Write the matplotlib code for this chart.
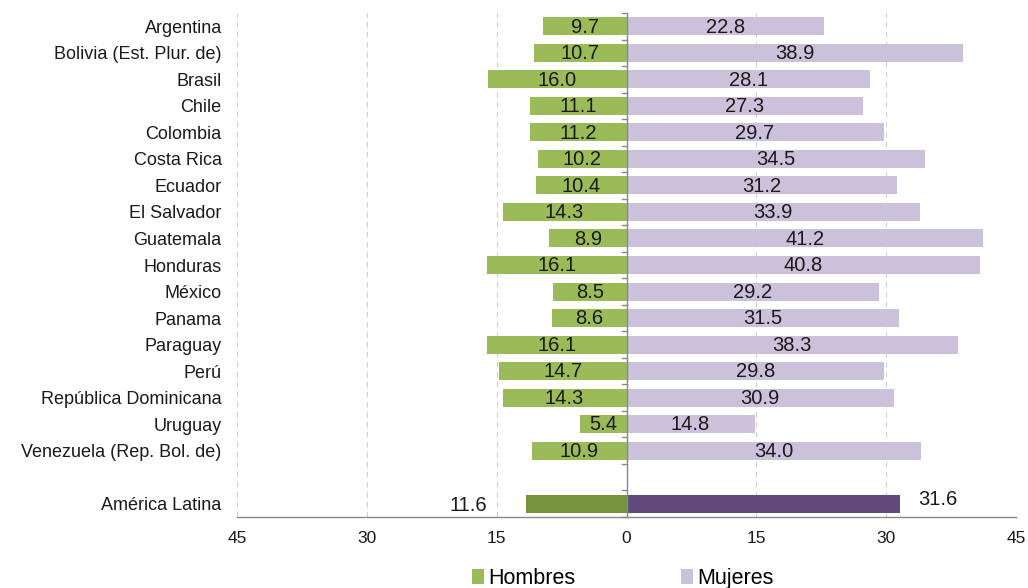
import matplotlib
matplotlib.use("Agg")
import matplotlib.pyplot as plt
import numpy as np

plt.rcParams['font.family'] = ['Liberation Sans', 'DejaVu Sans']

countries = ["Argentina", "Bolivia (Est. Plur. de)", "Brasil", "Chile", "Colombia",
             "Costa Rica", "Ecuador", "El Salvador", "Guatemala", "Honduras", "México",
             "Panama", "Paraguay", "Perú", "República Dominicana", "Uruguay",
             "Venezuela (Rep. Bol. de)"]
hombres = [9.7, 10.7, 16.0, 11.1, 11.2, 10.2, 10.4, 14.3, 8.9, 16.1, 8.5, 8.6, 16.1,
           14.7, 14.3, 5.4, 10.9]
mujeres = [22.8, 38.9, 28.1, 27.3, 29.7, 34.5, 31.2, 33.9, 41.2, 40.8, 29.2, 31.5,
           38.3, 29.8, 30.9, 14.8, 34.0]
total_label = "América Latina"
total_hombres = 11.6
total_mujeres = 31.6
xticks = [-45, -30, -15, 0, 15, 30, 45]
xticklabels = ["45", "30", "15", "0", "15", "30", "45"]

c_h = "#9BBB59"
c_m = "#CCC1DA"
c_h2 = "#77933C"
c_m2 = "#604A7B"
txt = "#1a1a1a"

fig = plt.figure(figsize=(10.28, 5.88), dpi=100)
ax = fig.add_axes([237/1028, 1-517/588, (1016-237)/1028, (517-13)/588])

n = len(countries)
ypos = np.arange(n)
ytot = n + 1
bh = 0.68

ax.barh(ypos, [-v for v in hombres], height=bh, color=c_h, label="Hombres", zorder=2)
ax.barh(ypos, mujeres, height=bh, color=c_m, label="Mujeres", zorder=2)
ax.barh([ytot], [-total_hombres], height=bh, color=c_h2, zorder=2)
ax.barh([ytot], [total_mujeres], height=bh, color=c_m2, zorder=2)

fs = 14.5
for y, h, m in zip(ypos, hombres, mujeres):
    ax.text(-h/2, y + 0.03, f"{h:.1f}", ha="center", va="center", fontsize=fs, color=txt, zorder=3)
    ax.text(m/2, y + 0.03, f"{m:.1f}", ha="center", va="center", fontsize=fs, color=txt, zorder=3)
ax.text(-total_hombres - 4.5, ytot + 0.05, f"{total_hombres:.1f}", ha="right", va="center",
        fontsize=fs, color=txt)
ax.text(total_mujeres + 2.1, ytot - 0.15, f"{total_mujeres:.1f}", ha="left", va="center",
        fontsize=fs, color=txt)

ax.set_xlim(-45, 45)
ax.set_ylim(ytot + 0.5, -0.5)
ax.set_yticks(list(ypos) + [ytot])
ax.set_yticklabels(countries + [total_label], fontsize=13, color=txt)
ax.set_xticks(xticks)
ax.set_xticklabels(xticklabels, fontsize=12.5, color=txt)
ax.tick_params(axis="both", length=0)
ax.tick_params(axis="y", pad=11)
ax.tick_params(axis="x", pad=10)

for x in xticks:
    if x != 0:
        ax.axvline(x, color="#D0D0D0", linestyle=(0, (5, 4)), linewidth=0.8, zorder=0)
ax.axvline(0, color="#888888", linewidth=1.0, zorder=4)

for b in np.arange(-0.5, ytot + 0.6, 1.0):
    ax.plot([-0.5, 0], [b, b], color="#888888", linewidth=1.0, zorder=4, clip_on=False)

for s in ["top", "left", "right"]:
    ax.spines[s].set_visible(False)
ax.spines["bottom"].set_color("#888888")
ax.spines["bottom"].set_linewidth(1.0)

handles, labels = ax.get_legend_handles_labels()
fig.legend(handles, labels, loc="lower center", bbox_to_anchor=(0.606, -0.035), ncol=2,
           frameon=False, fontsize=15.5, handlelength=0.55, handleheight=0.7,
           columnspacing=4.9, handletextpad=0.2)

fig.savefig("out.png", dpi=100)
